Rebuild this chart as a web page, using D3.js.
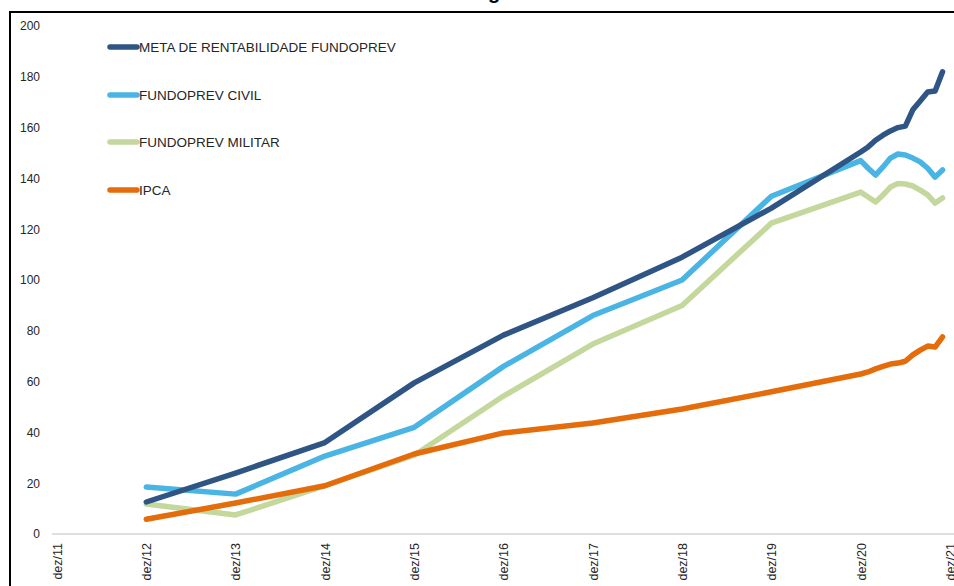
<!DOCTYPE html>
<html><head><meta charset="utf-8">
<script src="https://cdn.jsdelivr.net/npm/d3@7"></script>
<style>body{margin:0;background:#fff;}svg{display:block;font-family:"Liberation Sans",Arial,sans-serif;}</style>
</head><body>
<svg id="c" width="954" height="586"></svg>
<script>
// month index: 0 = dez/11, 12 = dez/12, ... 120 = dez/21
const tickLabels = ["dez/11","dez/12","dez/13","dez/14","dez/15","dez/16","dez/17","dez/18","dez/19","dez/20","dez/21"];
const months = [12,24,36,48,60,72,84,96,108,109,110,111,112,113,114,115,116,117,118,119];
const meta    = [12.6,24,36,59.5,78.3,93,109,128.3,150.4,152.4,155,157,158.7,160,160.6,167,170.5,174,174.4,182];
const civil   = [18.5,15.7,30.7,42,66,86,100,133,147,144,141.3,144.5,148,149.6,149.2,148,146.5,144,140.5,143.3];
const militar = [11.8,7.5,19,31,54.3,74.8,90,122.4,134.6,132.7,130.7,133.5,136.6,138,137.8,137,135.4,133.5,130.3,132.3];
const ipca    = [5.8,12.2,19,31.5,39.8,43.7,49.2,56,63,63.8,65,66,66.9,67.3,68,70.5,72.4,74,73.6,77.6];
const seriesNames = ["META DE RENTABILIDADE FUNDOPREV","FUNDOPREV CIVIL","FUNDOPREV MILITAR","IPCA"];
const seriesColors = ["#2F5584","#4AB4E4","#C4D89D","#E46C0A"];
const yTicks = [0,20,40,60,80,100,120,140,160,180,200];

const svg = d3.select("#c");
const x = d3.scaleLinear().domain([0,120]).range([57,950]);
const y = d3.scaleLinear().domain([0,200]).range([534,26]);

// title (cut off at top)
svg.append("text").attr("x",494).attr("y",-1).attr("text-anchor","middle")
  .attr("font-size",20).attr("font-weight","bold").attr("fill","#000").text("g");

// frame
svg.append("rect").attr("x",10).attr("y",12).attr("width",1000).attr("height",700)
  .attr("fill","none").attr("stroke","#000").attr("stroke-width",2);

// x baseline
svg.append("line").attr("x1",52).attr("x2",960).attr("y1",y(0)).attr("y2",y(0))
  .attr("stroke","#BFBFBF").attr("stroke-width",1.2);

// y axis labels
const yAxis = d3.axisLeft(y).tickValues(yTicks).tickSize(0).tickPadding(0);
const gy = svg.append("g").attr("transform","translate(40,0)").call(yAxis);
gy.select(".domain").remove();
gy.selectAll("text").attr("font-size",12).attr("fill","#262626")
  .attr("font-family","Liberation Sans, Arial, sans-serif");

// x axis labels
const xAxis = d3.axisBottom(x).tickValues(d3.range(0,121,12))
  .tickFormat((d,i)=>tickLabels[i]).tickSize(0).tickPadding(0);
const gx = svg.append("g").attr("transform","translate(0,543)").call(xAxis);
gx.select(".domain").remove();
gx.selectAll("text").attr("font-size",12.5).attr("fill","#262626")
  .attr("font-family","Liberation Sans, Arial, sans-serif")
  .attr("text-anchor","end").attr("dy","0.35em")
  .attr("transform","rotate(-90)").attr("x",0).attr("y",0);

// lines
const allSeries = [meta,civil,militar,ipca];
const line = d3.line().x((d,i)=>x(months[i])).y(d=>y(d));
const order = [2,1,0,3];
order.forEach(k=>{
  svg.append("path").datum(allSeries[k]).attr("d",line)
    .attr("fill","none").attr("stroke",seriesColors[k]).attr("stroke-width",5.5)
    .attr("stroke-linejoin","round").attr("stroke-linecap","round");
});

// legend
const legendY = [47,95,142,190];
seriesNames.forEach((n,i)=>{
  svg.append("line").attr("x1",110).attr("x2",137).attr("y1",legendY[i]).attr("y2",legendY[i])
    .attr("stroke",seriesColors[i]).attr("stroke-width",5.5).attr("stroke-linecap","round");
  svg.append("text").attr("x",139).attr("y",legendY[i]).attr("dy","0.35em")
    .attr("font-size",13.5).attr("fill","#262626").text(n);
});
</script>
</body></html>
